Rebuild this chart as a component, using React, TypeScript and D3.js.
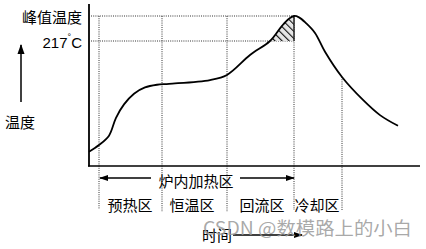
import React from "react";
import * as d3 from "d3";

// time (arbitrary units) and temperature (°C)
const curveTime = [0, 10, 20, 27, 35, 45, 56, 68, 80, 121, 138, 161, 181, 193, 200, 205, 210, 217, 226, 236, 253, 274, 291, 309];
const curveTemp = [93, 100.5, 111, 131, 146, 158, 165, 168, 169, 173.3, 179, 201.3, 217, 234, 242, 245, 243.5, 237, 226, 205, 176.7, 151, 134, 122];
const zoneBounds = [10, 73, 138, 205, 253];
const zoneLabels = ["预热区", "恒温区", "回流区", "冷却区"];
const zoneLabelTimes = [41, 103, 173, 228];
const peakTemp = 245;
const meltTemp = 217;
const reflowStart = 181;
const peakLabel = "峰值温度";
const meltLabel = "217";
const yAxisLabel = "温度";
const xAxisLabel = "时间";
const ovenLabel = "炉内加热区";
const watermark = "CSDN @数模路上的小白";

const W = 426, H = 249;
const FONT = "'Noto Sans CJK SC', 'Noto Sans', sans-serif";

export default function App() {
  const x = d3.scaleLinear().domain([0, 337]).range([89, 426]);
  const y = d3.scaleLinear().domain([77, 245]).range([166, 16]);
  const pts: [number, number][] = curveTime.map((t, i) => [t, curveTemp[i]]);
  const line = d3.line<[number, number]>().x(d => x(d[0])).y(d => y(d[1])).curve(d3.curveCatmullRom.alpha(0.5));
  const area = d3.area<[number, number]>().x(d => x(d[0])).y1(d => y(d[1])).y0(y(meltTemp)).curve(d3.curveCatmullRom.alpha(0.5));
  const dot = { stroke: "#333", strokeWidth: 1, strokeDasharray: "1,1.2", fill: "none" } as const;
  const xPeak = x(205);
  const bottomEnds = [209, 212, 212, 210, 210];
  const topStarts = [y(peakTemp), y(peakTemp), y(peakTemp), y(peakTemp), y(176.7)];
  return (
    <svg width={W} height={H} style={{ position: "absolute", left: 0, top: 0, background: "#fff" }} fontFamily={FONT}>
      <defs>
        <pattern id="hatch" patternUnits="userSpaceOnUse" width="5" height="5" patternTransform="rotate(-45)">
          <rect width="5" height="5" fill="#e6e6e6" />
          <line x1="0" y1="0" x2="0" y2="5" stroke="#111" strokeWidth="2.2" />
        </pattern>
        <clipPath id="hclip">
          <rect x={x(reflowStart) - 1} y={y(peakTemp) - 2} width={xPeak - x(reflowStart) + 1} height={y(meltTemp) - y(peakTemp) + 2} />
        </clipPath>
        <marker id="arr" viewBox="0 0 10 10" refX="9" refY="5" markerWidth="7" markerHeight="7" orient="auto-start-reverse">
          <path d="M0,1.5 L10,5 L0,8.5 Z" fill="#000" />
        </marker>
      </defs>
      <rect width={W} height={H} fill="#fff" />
      {/* dotted guide lines */}
      <line x1={91} x2={xPeak} y1={y(peakTemp)} y2={y(peakTemp)} style={dot} />
      <line x1={91} x2={xPeak} y1={y(meltTemp)} y2={y(meltTemp)} style={dot} />
      {zoneBounds.map((t, i) => (
        <line key={i} x1={x(t)} x2={x(t)} y1={topStarts[i]} y2={bottomEnds[i]} style={dot} />
      ))}
      {/* hatch */}
      <path d={area(pts) || ""} fill="url(#hatch)" clipPath="url(#hclip)" />
      <line x1={xPeak} x2={xPeak} y1={y(peakTemp)} y2={y(meltTemp)} stroke="#222" strokeWidth={1.5} />
      {/* curve */}
      <path d={line(pts) || ""} fill="none" stroke="#000" strokeWidth={1.8} />
      {/* axes */}
      <line x1={89} x2={89} y1={4} y2={166.5} stroke="#000" strokeWidth={1.8} />
      <line x1={88} x2={420} y1={166} y2={166} stroke="#000" strokeWidth={1.5} />
      {/* labels */}
      <text x={82} y={16} fontSize={15} textAnchor="end" dominantBaseline="central">{peakLabel}</text>
      <text x={82} y={42} fontSize={15} textAnchor="end" dominantBaseline="central" fontFamily="Arial, 'Liberation Sans', sans-serif">
        {meltLabel}
        <tspan fontSize={9} dy={-5}>°</tspan>
        <tspan dy={5}>C</tspan>
      </text>
      <line x1={21} x2={21} y1={102} y2={45} stroke="#000" strokeWidth={1.5} markerEnd="url(#arr)" />
      <text x={20} y={121} fontSize={15} textAnchor="middle" dominantBaseline="central">{yAxisLabel}</text>
      {/* oven arrow */}
      <line x1={151} x2={x(zoneBounds[0]) + 1} y1={178} y2={178} stroke="#000" strokeWidth={1.3} markerEnd="url(#arr)" />
      <line x1={240} x2={xPeak} y1={178} y2={178} stroke="#000" strokeWidth={1.3} markerEnd="url(#arr)" />
      <text x={196} y={180} fontSize={15} textAnchor="middle" dominantBaseline="central">{ovenLabel}</text>
      {zoneLabels.map((z, i) => (
        <text key={z} x={x(zoneLabelTimes[i])} y={204.5} fontSize={15} textAnchor="middle" dominantBaseline="central">{z}</text>
      ))}
      <text x={217} y={234} fontSize={15} textAnchor="middle" dominantBaseline="central">{xAxisLabel}</text>
      <line x1={233} x2={302} y1={235} y2={235} stroke="#000" strokeWidth={1.3} markerEnd="url(#arr)" />
      <text x={203} y={227} fontSize={18} fill="#9a9a9a" fillOpacity={0.85} dominantBaseline="central" textLength={209} lengthAdjust="spacingAndGlyphs">{watermark}</text>
    </svg>
  );
}
